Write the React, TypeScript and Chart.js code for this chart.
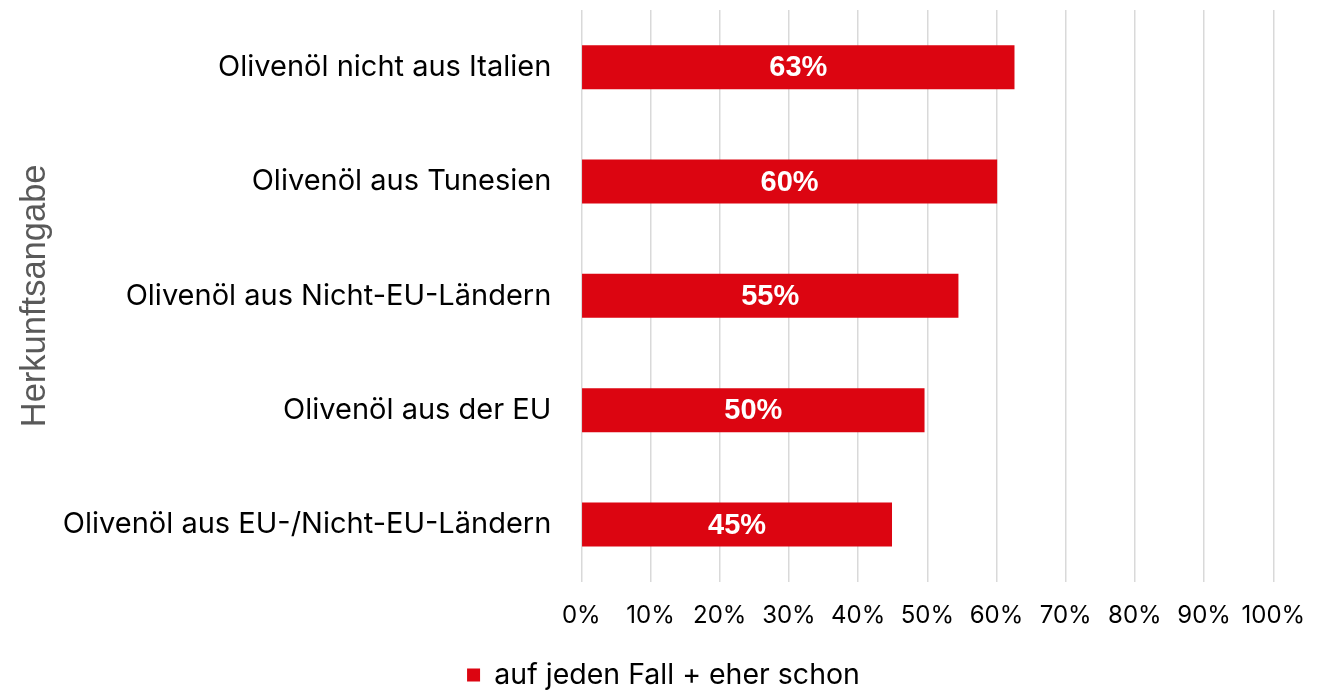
import React, { useEffect, useRef } from "react";
import { Chart, registerables } from "chart.js";

Chart.register(...registerables);

const categories = [
  "Olivenöl nicht aus Italien",
  "Olivenöl aus Tunesien",
  "Olivenöl aus Nicht-EU-Ländern",
  "Olivenöl aus der EU",
  "Olivenöl aus EU-/Nicht-EU-Ländern",
];
const values = [62.6, 60.1, 54.5, 49.6, 44.9];
const valueLabels = ["63%", "60%", "55%", "50%", "45%"];
const seriesName = "auf jeden Fall + eher schon";
const axisTitle = "Herkunftsangabe";
const xMin = 0;
const xMax = 100;
const xStep = 10;

const BAR_COLOR = "#dc0511";
const MAIN_FONT = "Inter, 'Noto Sans', sans-serif";
const ARIAL = "'Liberation Sans', Arial, sans-serif";

const barLabels = {
  id: "barLabels",
  afterDatasetsDraw(chart: any) {
    const ctx = chart.ctx;
    const meta = chart.getDatasetMeta(0);
    ctx.save();
    ctx.font = `bold 29px ${ARIAL}`;
    ctx.fillStyle = "#ffffff";
    ctx.textAlign = "center";
    ctx.textBaseline = "middle";
    meta.data.forEach((bar: any, i: number) => {
      const p = bar.getProps(["x", "y", "base"], true);
      ctx.fillText(valueLabels[i], (p.x + p.base) / 2, p.y + 1);
    });
    ctx.restore();
  },
};

export default function App() {
  const ref = useRef<HTMLCanvasElement | null>(null);

  useEffect(() => {
    if (!ref.current) return;
    const chart = new Chart(ref.current, {
      type: "bar",
      data: {
        labels: categories,
        datasets: [
          {
            label: seriesName,
            data: values,
            backgroundColor: BAR_COLOR,
            borderWidth: 0,
            categoryPercentage: 1,
            barPercentage: 0.385,
          },
        ],
      },
      options: {
        indexAxis: "y",
        responsive: false,
        animation: false,
        layout: { padding: { left: 15, top: 10, right: 20, bottom: -9.25 } },
        plugins: {
          legend: {
            position: "bottom",
            labels: {
              boxWidth: 13,
              boxHeight: 13,
              padding: 2,
              color: "#000",
              font: { family: MAIN_FONT, size: 28.5 },
            },
          },
          tooltip: { enabled: false },
        },
        scales: {
          x: {
            min: xMin,
            max: xMax,
            ticks: {
              stepSize: xStep,
              callback: (v: any) => `${v}%`,
              color: "#000",
              font: { family: MAIN_FONT, size: 24 },
              padding: 20,
              maxRotation: 0,
            },
            grid: { color: "#d9d9d9", lineWidth: 1.5, drawTicks: false },
            border: { display: false },
            afterFit: (scale: any) => {
              scale.height = 690 - 10 + 9.25 - 571.7 - 40.5;
            },
          },
          y: {
            grid: { display: false, drawTicks: false },
            border: { display: false },
            ticks: {
              color: "#000",
              font: { family: MAIN_FONT, size: 29 },
              padding: 30,
            },
            title: {
              display: true,
              text: axisTitle,
              color: "#595959",
              font: { family: ARIAL, size: 34.5 },
              padding: 0,
            },
            afterFit: (scale: any) => {
              scale.width = 581.3 - 15;
              scale.paddingTop = 0;
              scale.paddingBottom = 0;
            },
          },
          yRight: {
            type: "category",
            position: "right",
            display: true,
            grid: { display: false, drawTicks: false },
            border: { display: false },
            ticks: { display: false },
            title: { display: false },
            afterFit: (scale: any) => {
              scale.width = 1332 - 20 - 1273.3;
              scale.paddingTop = 0;
              scale.paddingBottom = 0;
            },
          },
        },
      },
      plugins: [barLabels],
    });
    return () => chart.destroy();
  }, []);

  return (
    <div style={{ position: "fixed", left: 0, top: 0, width: 1332, height: 690, background: "#fff" }}>
      <canvas ref={ref} width={1332} height={690} style={{ display: "block" }} />
    </div>
  );
}
